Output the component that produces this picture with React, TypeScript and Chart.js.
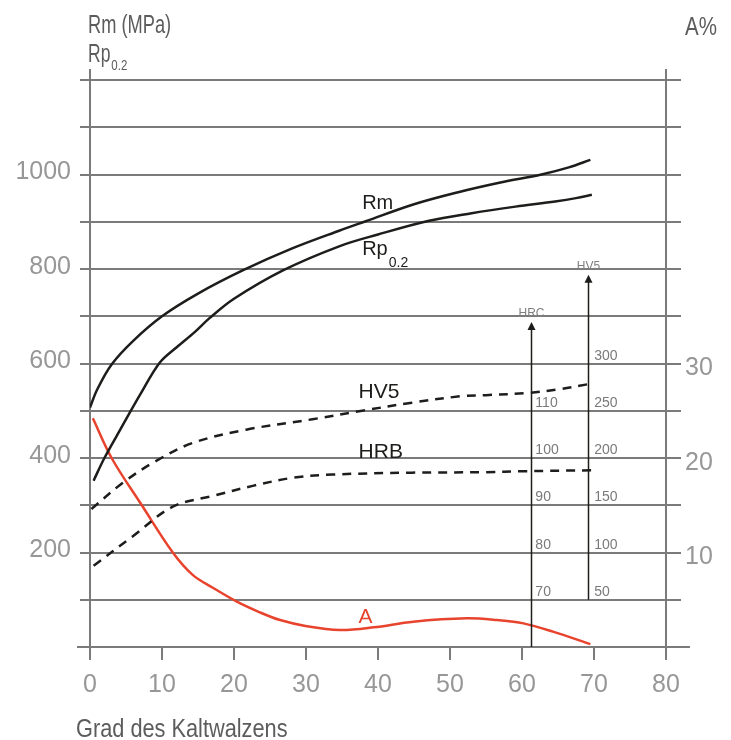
import React, { useEffect, useRef } from "react";
import { Chart, registerables } from "chart.js";

Chart.register(...registerables);

// ---------- data ----------
const xTickValues = [0, 10, 20, 30, 40, 50, 60, 70, 80];
const leftTickLabels = [200, 400, 600, 800, 1000];
const rightTickLabels = [10, 20, 30];

// Rm (MPa)
const rmX = [0, 1, 3, 6, 10, 15, 21.2, 28, 34.6, 38.3, 45, 51, 57, 62.7, 66.5, 69.5];
const rmY = [507, 545, 598, 648, 700, 748, 797, 843, 881, 901, 937, 962, 983, 1000, 1015, 1031];

// Rp0.2 (MPa)
const rpX = [0.5, 2, 4.2, 7, 9.7, 12, 14.5, 16.6, 20, 26.8, 34.6, 40, 47.1, 53, 59.1, 64.6, 67.5, 69.7];
const rpY = [352, 400, 460, 535, 602, 634, 666, 696, 737, 797, 848, 873, 902, 918, 932, 943, 950, 957];

// HV5 hardness
const hv5X = [0.2, 4.6, 9.2, 14.3, 21.7, 30.9, 37.8, 44.7, 51.7, 55, 61, 65, 69.1];
const hv5Y = [146, 174, 197, 216, 230, 241, 250, 258.5, 265.5, 266.5, 269, 272.5, 278];

// HRB hardness
const hrbX = [0.5, 6, 11.5, 17.1, 22.6, 28.1, 33.7, 44.7, 55, 60, 69.9];
const hrbY = [77.2, 83.5, 89.7, 92, 94.1, 95.8, 96.5, 96.9, 97, 97.2, 97.4];

// A (%)
const aX = [0.4, 3, 7.2, 11.5, 14.3, 17, 20.4, 23.5, 26.4, 30.1, 34.7, 39.4, 44.9, 52.3, 56.5, 60.2, 64.4, 69.5];
const aY = [24.2, 20, 15, 10, 7.6, 6.3, 4.8, 3.7, 2.85, 2.2, 1.8, 2.08, 2.68, 3.03, 2.85, 2.5, 1.6, 0.3];

// hardness scales next to the arrows
const hrcScaleLabels = [70, 80, 90, 100, 110];
const hv5ScaleLabels = [50, 100, 150, 200, 250, 300];
const hrcArrowX = 61.3;
const hrcArrowRange = [0, 688]; // MPa
const hv5ArrowX = 69.2;
const hv5ArrowRange = [100, 788]; // MPa

// curve labels
const labelRm = { text: "Rm", x: 37.8, y: 927 };
const labelRp = { text: "Rp", sub: "0.2", x: 37.8, y: 830 };
const labelHV5 = { text: "HV5", x: 37.3, y: 263.8 };
const labelHRB = { text: "HRB", x: 37.3, y: 100.1 };
const labelA = { text: "A", x: 37.3, y: 2.54 };

// ---------- styles ----------
const GRID = "#7b7b7b";
const TICK_COLOR = "#979797";
const TITLE_COLOR = "#5c5c5c";
const LINE_COLOR = "#1d1d1b";
const RED = "#e8432d";
const SANS = "'Liberation Sans', Arial, sans-serif";

const annotPlugin = {
  id: "annot",
  afterDraw(chart: any) {
    const { ctx, chartArea, scales } = chart;
    const xs = scales.x;
    const ys = scales.y;
    const y2 = scales.y2;
    const yHV = scales.yHV;
    const yHRB = scales.yHRB;
    ctx.save();

    // axis extensions
    ctx.strokeStyle = GRID;
    ctx.lineWidth = 2;
    ctx.beginPath();
    ctx.moveTo(chartArea.left, chartArea.top - 11);
    ctx.lineTo(chartArea.left, chartArea.top);
    ctx.moveTo(chartArea.right, chartArea.top - 11);
    ctx.lineTo(chartArea.right, chartArea.top);
    ctx.moveTo(chartArea.left - 13, chartArea.bottom);
    ctx.lineTo(chartArea.right + 24, chartArea.bottom);
    ctx.stroke();

    // arrows
    const drawArrow = (xv: number, r: number[], name: string) => {
      const x = Math.round(xs.getPixelForValue(xv)) + 0.5;
      const yb = ys.getPixelForValue(r[0]);
      const yt = ys.getPixelForValue(r[1]);
      ctx.strokeStyle = LINE_COLOR;
      ctx.lineWidth = 1.5;
      ctx.beginPath();
      ctx.moveTo(x, yb);
      ctx.lineTo(x, yt + 6);
      ctx.stroke();
      ctx.fillStyle = LINE_COLOR;
      ctx.beginPath();
      ctx.moveTo(x, yt);
      ctx.lineTo(x - 4, yt + 8);
      ctx.lineTo(x + 4, yt + 8);
      ctx.closePath();
      ctx.fill();
      ctx.fillStyle = "#808080";
      ctx.font = `12px ${SANS}`;
      ctx.textAlign = "center";
      ctx.textBaseline = "alphabetic";
      ctx.fillText(name, x, yt - 5);
    };
    drawArrow(hrcArrowX, hrcArrowRange, "HRC");
    drawArrow(hv5ArrowX, hv5ArrowRange, "HV5");

    // scale labels
    ctx.fillStyle = "#7a7a7a";
    ctx.font = `14px ${SANS}`;
    ctx.textAlign = "left";
    ctx.textBaseline = "alphabetic";
    const xHrc = xs.getPixelForValue(hrcArrowX) + 4;
    hrcScaleLabels.forEach((v) => {
      ctx.fillText(String(v), xHrc, yHRB.getPixelForValue(v) - 4);
    });
    const xHv = xs.getPixelForValue(hv5ArrowX) + 6;
    hv5ScaleLabels.forEach((v) => {
      ctx.fillText(String(v), xHv, yHV.getPixelForValue(v) - 4);
    });

    // curve labels
    ctx.fillStyle = LINE_COLOR;
    ctx.font = `20px ${SANS}`;
    ctx.fillText(labelRm.text, xs.getPixelForValue(labelRm.x), ys.getPixelForValue(labelRm.y));
    const rpx = xs.getPixelForValue(labelRp.x);
    const rpy = ys.getPixelForValue(labelRp.y);
    ctx.fillText(labelRp.text, rpx, rpy);
    const rpw = ctx.measureText(labelRp.text).width;
    ctx.font = `14px ${SANS}`;
    ctx.fillText(labelRp.sub, rpx + rpw + 1, rpy + 12);
    ctx.font = `21px ${SANS}`;
    ctx.fillText(labelHV5.text, xs.getPixelForValue(labelHV5.x), yHV.getPixelForValue(labelHV5.y));
    ctx.fillText(labelHRB.text, xs.getPixelForValue(labelHRB.x), yHRB.getPixelForValue(labelHRB.y));
    ctx.fillStyle = RED;
    ctx.fillText(labelA.text, xs.getPixelForValue(labelA.x), y2.getPixelForValue(labelA.y));

    // axis titles (condensed by horizontal scaling)
    const narrowText = (t: string, x: number, y: number, size: number, sx: number) => {
      ctx.save();
      ctx.translate(x, y);
      ctx.scale(sx, 1);
      ctx.font = `${size}px ${SANS}`;
      ctx.textAlign = "left";
      ctx.textBaseline = "alphabetic";
      ctx.fillText(t, 0, 0);
      const w = ctx.measureText(t).width * sx;
      ctx.restore();
      return w;
    };
    ctx.fillStyle = TITLE_COLOR;
    narrowText("Rm (MPa)", 88, 33, 25, 0.73);
    const w = narrowText("Rp", 88, 62, 25, 0.7);
    narrowText("0.2", 88 + w + 1, 70, 14, 0.82);
    narrowText("A%", 685, 35, 25, 0.82);
    narrowText("Grad des Kaltwalzens", 76, 737, 25, 0.87);
    ctx.restore();
  },
};

const toPts = (xa: number[], ya: number[]) => xa.map((x, i) => ({ x, y: ya[i] }));

export default function App() {
  const ref = useRef<HTMLCanvasElement | null>(null);
  useEffect(() => {
    if (!ref.current) return;
    const lineBase = {
      pointRadius: 0,
      borderWidth: 2.5,
      fill: false,
      tension: 0.35,
      borderCapStyle: "butt" as const,
    };
    const tickFont = { family: SANS, size: 25 };
    const chart = new Chart(ref.current, {
      type: "line",
      data: {
        datasets: [
          { ...lineBase, label: "Rm", data: toPts(rmX, rmY), yAxisID: "y", borderColor: LINE_COLOR },
          { ...lineBase, label: "Rp0.2", data: toPts(rpX, rpY), yAxisID: "y", borderColor: LINE_COLOR },
          { ...lineBase, label: "HV5", data: toPts(hv5X, hv5Y), yAxisID: "yHV", borderColor: LINE_COLOR, borderDash: [9, 7] },
          { ...lineBase, label: "HRB", data: toPts(hrbX, hrbY), yAxisID: "yHRB", borderColor: LINE_COLOR, borderDash: [9, 7] },
          { ...lineBase, label: "A", data: toPts(aX, aY), yAxisID: "y2", borderColor: RED },
        ],
      },
      options: {
        animation: false,
        responsive: false,
        devicePixelRatio: 1,
        layout: { padding: { top: 80, left: 0, right: 0, bottom: 0 } },
        plugins: { legend: { display: false }, tooltip: { enabled: false } },
        scales: {
          x: {
            type: "linear",
            min: 0,
            max: 80,
            afterFit: (s: any) => { s.height = 93; },
            afterBuildTicks: (s: any) => { s.ticks = xTickValues.map((v) => ({ value: v })); },
            ticks: { color: TICK_COLOR, font: tickFont, padding: 10, maxRotation: 0 },
            grid: { drawOnChartArea: false, tickLength: 13, color: GRID, lineWidth: 2 },
            border: { display: true, color: GRID, width: 2 },
          },
          y: {
            position: "left",
            min: 0,
            max: 1200,
            afterFit: (s: any) => { s.width = 90; },
            ticks: {
              stepSize: 100,
              color: TICK_COLOR,
              font: tickFont,
              padding: 9,
              labelOffset: -2,
              callback: (v: any) => (leftTickLabels.includes(Number(v)) ? String(v) : ""),
            },
            grid: { tickLength: 10, color: GRID, lineWidth: 2 },
            border: { display: true, color: GRID, width: 2 },
          },
          y2: {
            position: "right",
            min: 0,
            max: 60,
            afterFit: (s: any) => { s.width = 65; },
            ticks: {
              stepSize: 5,
              color: TICK_COLOR,
              font: tickFont,
              padding: 4,
              labelOffset: 5,
              callback: (v: any) => (rightTickLabels.includes(Number(v)) ? String(v) : ""),
            },
            grid: { drawOnChartArea: false, tickLength: 15, color: GRID, lineWidth: 2 },
            border: { display: true, color: GRID, width: 2 },
          },
          yHV: { display: false, min: 0, max: 600 },
          yHRB: { display: false, min: 60, max: 180 },
        },
      },
      plugins: [annotPlugin],
    } as any);
    return () => chart.destroy();
  }, []);
  return (
    <div style={{ position: "absolute", left: 0, top: 0, width: 731, height: 740, background: "#fff" }}>
      <canvas ref={ref} width={731} height={740} style={{ width: 731, height: 740 }} />
    </div>
  );
}
